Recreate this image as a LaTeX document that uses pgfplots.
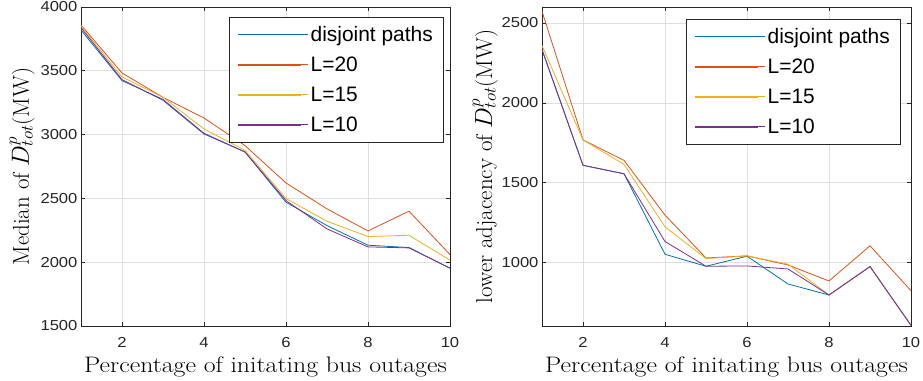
\documentclass[border=0pt]{standalone}
\usepackage{pgfplots}
\pgfplotsset{compat=1.18}
\usepackage{fontspec}
\newfontfamily\arial{Liberation Sans}
\newfontfamily\arialw{Liberation Sans}[FakeStretch=1.15]
\newfontfamily\lmw{Latin Modern Roman}[FakeStretch=1.15]
\definecolor{cblue}{rgb}{0,0.447,0.741}
\definecolor{cred}{rgb}{0.85,0.325,0.098}
\definecolor{cyellow}{rgb}{0.929,0.694,0.125}
\definecolor{cpurple}{rgb}{0.494,0.184,0.556}
\definecolor{axgray}{rgb}{0.15,0.15,0.15}
\pgfplotsset{
  legend image code/.code={\path (0bp,0bp) -- (70bp,0bp); \draw[#1, line width=1.4bp] (0bp,0bp) -- (63bp,0bp);},
  mstyle/.style={
    scale only axis, width=369bp, height=319bp,
    xmin=1, xmax=10, xtick={2,4,6,8,10},
    axis line style={axgray, line width=0.6bp},
    tick style={axgray, line width=0.6bp},
    tick align=inside, major tick length=4bp,
    grid=major, grid style={gray!25, line width=0.6bp},
    ticklabel style={font=\fontsize{14.5}{14.5}\selectfont\arialw, text=axgray},
    /pgf/number format/assume math mode=true,
    /pgf/number format/1000 sep={},
    scaled ticks=false,
    xticklabel style={anchor=base, yshift=-21bp},
    xlabel={Percentage of initating bus outages},
    xlabel style={font=\fontsize{22.5}{26}\selectfont\lmw, at={(axis description cs:0.5,0)}, anchor=base, yshift=-46bp},
    ylabel style={font=\fontsize{23}{26}\selectfont, at={(axis description cs:0,0.5)}, anchor=base},
    legend cell align=left,
    legend style={font=\fontsize{21}{22}\selectfont\arial, draw=axgray,
      fill=white, anchor=north east, inner xsep=8bp, inner ysep=7bp, row sep=10bp},
    bl/.style={draw=cblue, color=cblue, line width=0.8bp, mark=none},
    rd/.style={draw=cred, color=cred, line width=0.8bp, mark=none},
    yl/.style={draw=cyellow, color=cyellow, line width=0.8bp, mark=none},
    pu/.style={draw=cpurple, color=cpurple, line width=0.8bp, mark=none},
  }
}
\begin{document}
\begin{tikzpicture}
\begin{axis}[mstyle, at={(0,0)}, anchor=south west,
  ymin=1500, ymax=4000, ytick={1500,2000,2500,3000,3500,4000},
  ylabel={Median of $D^{p}_{tot}$(MW)},
  ylabel style={yshift=52bp},
  legend style={at={(axis description cs:1,1)}, xshift=-7bp, yshift=-10bp}]
\addplot[bl] coordinates {(1,3820) (2,3423) (3,3276) (4,3010) (5,2864) (6,2470) (7,2287) (8,2133) (9,2115) (10,1953)};
\addlegendentry{disjoint paths}
\addplot[rd] coordinates {(1,3859) (2,3483) (3,3292) (4,3130) (5,2914) (6,2621) (7,2418) (8,2245) (9,2400) (10,2060)};
\addlegendentry{L=20}
\addplot[yl] coordinates {(1,3849) (2,3452) (3,3292) (4,3044) (5,2877) (6,2499) (7,2321) (8,2201) (9,2211) (10,2016)};
\addlegendentry{L=15}
\addplot[pu] coordinates {(1,3838) (2,3431) (3,3269) (4,3005) (5,2864) (6,2483) (7,2261) (8,2120) (9,2112) (10,1953)};
\addlegendentry{L=10}
\end{axis}
\begin{axis}[mstyle, at={(461bp,0)}, anchor=south west,
  ymin=603, ymax=2600, ytick={1000,1500,2000,2500},
  ylabel={lower adjacency of $D^{p}_{tot}$(MW)},
  ylabel style={yshift=50bp},
  legend style={at={(axis description cs:1,1)}, xshift=-11bp, yshift=-12bp}]
\addplot[bl] coordinates {(1,2333) (2,1609) (3,1556) (4,1052) (5,977) (6,1040) (7,866) (8,797) (9,975) (10,607)};
\addlegendentry{disjoint paths}
\addplot[rd] coordinates {(1,2573) (2,1768) (3,1640) (4,1297) (5,1029) (6,1042) (7,985) (8,885) (9,1105) (10,824)};
\addlegendentry{L=20}
\addplot[yl] coordinates {(1,2358) (2,1768) (3,1615) (4,1224) (5,1025) (6,1042) (7,990) (8,797) (9,975) (10,607)};
\addlegendentry{L=15}
\addplot[pu] coordinates {(1,2333) (2,1609) (3,1556) (4,1132) (5,977) (6,979) (7,960) (8,797) (9,975) (10,607)};
\addlegendentry{L=10}
\end{axis}
\pgfresetboundingbox
\path[use as bounding box] (-81bp,-55bp) rectangle (842bp,326bp);
\end{tikzpicture}
\end{document}
